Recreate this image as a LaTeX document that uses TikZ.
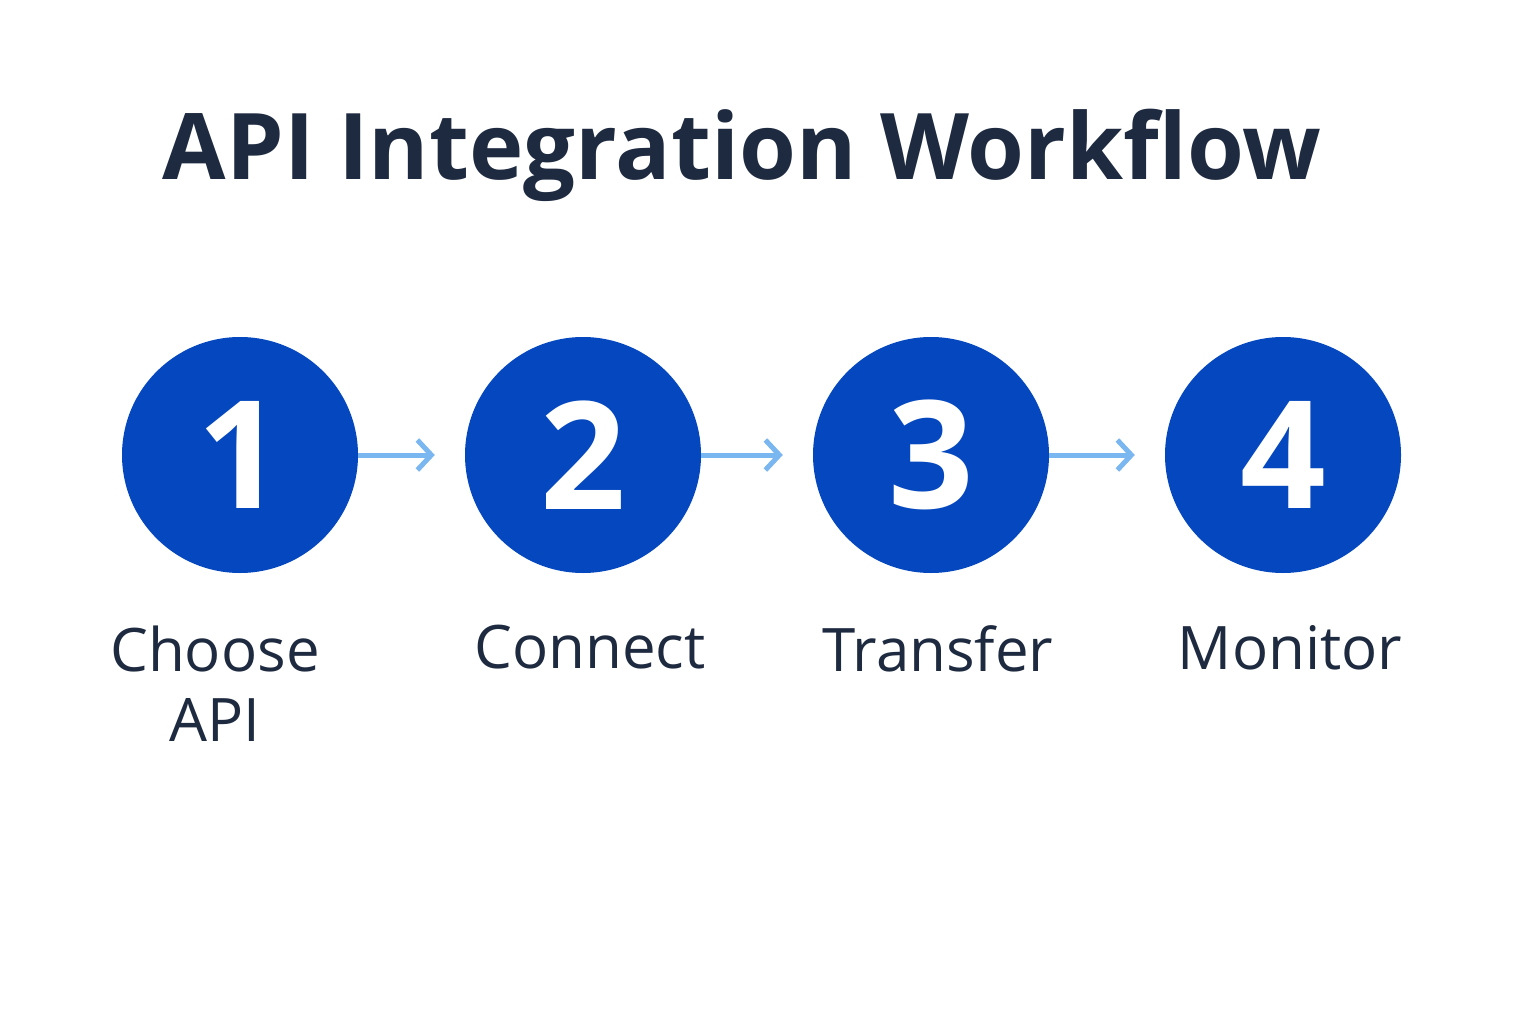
\documentclass[tikz,border=0pt]{standalone}
\usepackage{fontspec}
\setmainfont{Open Sans}
\usetikzlibrary{arrows.meta}
\definecolor{navy}{HTML}{1E2A40}
\definecolor{stepblue}{HTML}{0447BE}
\definecolor{arrowblue}{HTML}{7AB6F0}
\begin{document}
\begin{tikzpicture}[x=1pt,y=-1pt,
  stepnode/.style={circle,fill=stepblue,minimum size=236pt,inner sep=0pt,text=white,font=\fontsize{150}{150}\selectfont\bfseries},
  lab/.style={text=navy,font=\fontsize{60}{70}\selectfont,align=center},
  conn/.style={draw=arrowblue,line width=5pt,-{Straight Barb[length=14pt,width=30pt,line width=5pt]},shorten >=30pt}]
\useasboundingbox (0,0) rectangle (1536,1024);
\node[text=navy,font=\fontsize{92}{100}\selectfont\bfseries] (title) at (742,155) {API Integration Workflow};
\node[stepnode] (s1) at (240,455) {1};
\node[stepnode] (s2) at (583,455) {2};
\node[stepnode] (s3) at (931,455) {3};
\node[stepnode] (s4) at (1283,455) {4};
\draw[conn] (s1) -- (s2);
\draw[conn] (s2) -- (s3);
\draw[conn] (s3) -- (s4);
\node[lab,anchor=north] (l1) at (215,622) {Choose\\API};
\node[lab,anchor=north] (l2) at (590,622) {Connect};
\node[lab,anchor=north] (l3) at (938,622) {Transfer};
\node[lab,anchor=north] (l4) at (1290,622) {Monitor};
\end{tikzpicture}
\end{document}
